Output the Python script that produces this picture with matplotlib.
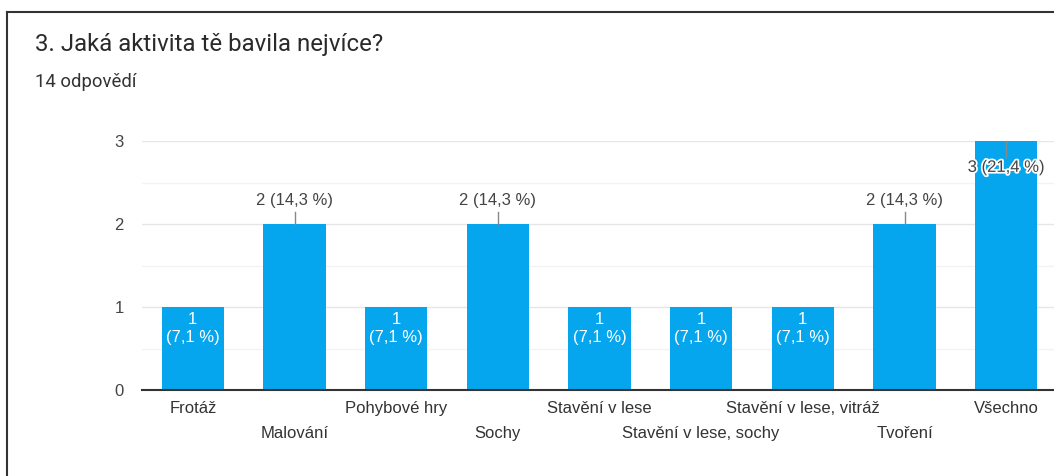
import matplotlib.pyplot as plt
import matplotlib.patheffects as pe
from matplotlib.lines import Line2D
from matplotlib.ticker import MultipleLocator

# data
categories = ['Frotáž', 'Malování', 'Pohybové hry', 'Sochy', 'Stavění v lese',
              'Stavění v lese, sochy', 'Stavění v lese, vitráž', 'Tvoření', 'Všechno']
counts = [1, 2, 1, 2, 1, 1, 1, 2, 3]
total = 14

title = '3. Jaká aktivita tě bavila nejvíce?'
subtitle = f'{total} odpovědí'

bar_color = '#05A6EE'
text_color = '#444444'
chart_font = ['Liberation Sans', 'DejaVu Sans']
plt.rcParams['font.family'] = chart_font

fig = plt.figure(figsize=(10.54, 4.76), dpi=100)
ax = fig.add_axes([142 / 1054, 1 - 390 / 476, 915 / 1054, 249 / 476])

x = list(range(len(categories)))
ax.bar(x, counts, width=0.61, color=bar_color, zorder=3)

ax.set_xlim(-0.5, len(categories) - 0.5)
ax.set_ylim(0, 3)
ax.yaxis.set_major_locator(MultipleLocator(1))
ax.yaxis.set_minor_locator(MultipleLocator(0.5))
ax.grid(axis='y', which='major', color='#e6e6e6', linewidth=1, zorder=0)
ax.grid(axis='y', which='minor', color='#f3f3f3', linewidth=1, zorder=0)
for s in ['top', 'right', 'left']:
    ax.spines[s].set_visible(False)
ax.spines['bottom'].set_color('#333333')
ax.spines['bottom'].set_linewidth(1.5)
ax.spines['bottom'].set_zorder(4)

fs = 12
ax.tick_params(axis='y', which='both', length=0, pad=13, labelsize=fs, labelcolor=text_color)
ax.tick_params(axis='x', length=0, labelsize=fs, labelcolor='#333333')
ax.set_xticks(x)
ax.set_xticklabels(categories)
# alternate labels on two rows
for i, tick in enumerate(ax.xaxis.get_major_ticks()):
    tick.set_pad(8 if i % 2 == 0 else 26)

# value labels
for i, v in enumerate(counts):
    pct = f'{v / total * 100:.1f}'.replace('.', ',')
    if v == 1:
        ax.annotate(f'{v}\n({pct} %)', (i, v), xytext=(0, -3.5), textcoords='offset points',
                    ha='center', va='top', color='white', fontsize=fs, linespacing=1.3, zorder=5)
    elif v == 2:
        ax.plot([i, i], [v, v + 0.14], color='#888888', linewidth=1, zorder=4)
        ax.annotate(f'{v} ({pct} %)', (i, v), xytext=(0, 17), textcoords='offset points',
                    ha='center', va='center', color=text_color, fontsize=fs, zorder=5)
    else:
        ax.plot([i, i], [v, v - 0.19], color='#888888', linewidth=1, zorder=4)
        ax.annotate(f'{v} ({pct} %)', (i, v), xytext=(0, -19), textcoords='offset points',
                    ha='center', va='center', color=text_color, fontsize=fs, zorder=5,
                    path_effects=[pe.withStroke(linewidth=2.5, foreground='white')])

# header text
fig.text(35 / 1054, 1 - 45 / 476, title, fontsize=17.3, color='#2a2a2a', va='center', ha='left',
         family=['Roboto', 'DejaVu Sans'])
fig.text(35 / 1054, 1 - 82 / 476, subtitle, fontsize=13.3, color='#333333', va='center', ha='left',
         family=['Roboto', 'DejaVu Sans'])

# card border (left and top edges)
fig.add_artist(Line2D([7 / 1054, 7 / 1054], [0, 1 - 12 / 476], color='#333333', linewidth=1.5))
fig.add_artist(Line2D([7 / 1054, 1], [1 - 12 / 476, 1 - 12 / 476], color='#333333', linewidth=1.5))

fig.savefig('out.png', dpi=100)
